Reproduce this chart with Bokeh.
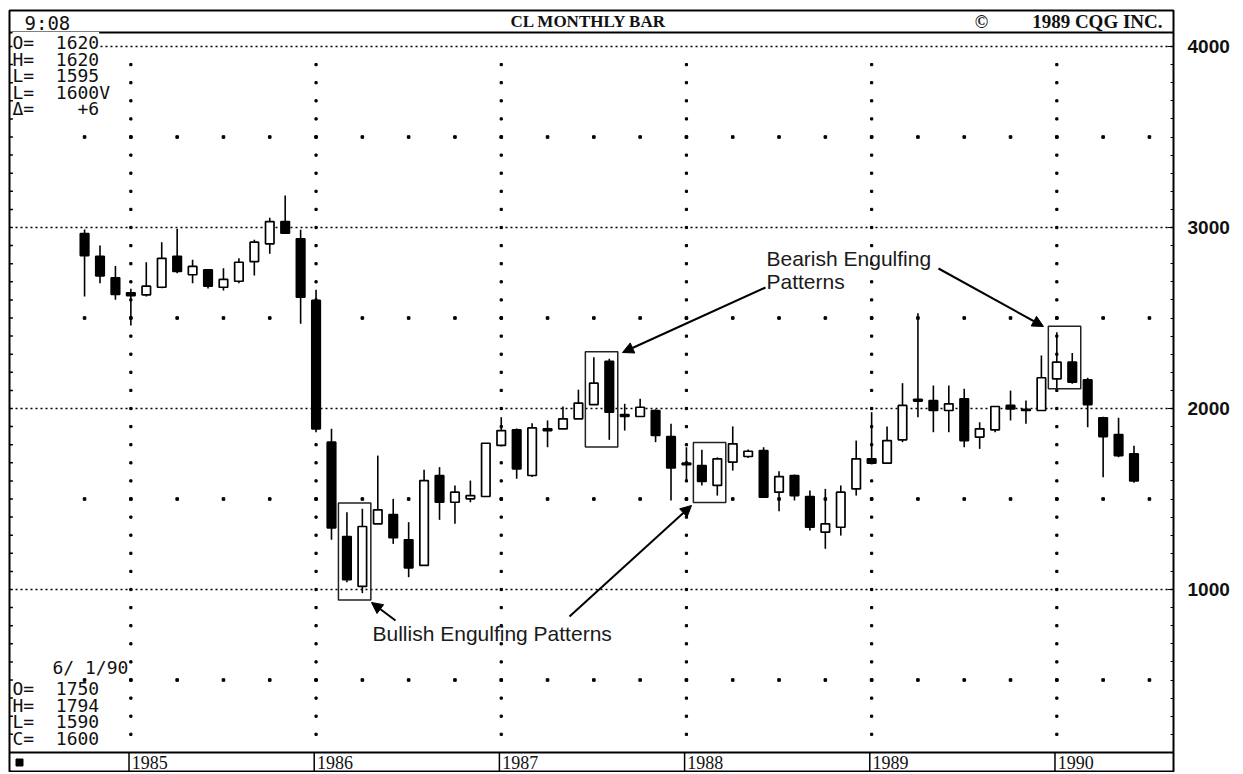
import numpy as np
import pandas as pd
from bokeh.plotting import figure
from bokeh.models import (Range1d, LinearAxis, FixedTicker, Label, Arrow,
                          NormalHead, Span, ColumnDataSource)
from bokeh.core.properties import value
from bokeh.embed import file_html
from bokeh.resources import INLINE

# ---------------- data ----------------
months = pd.date_range("1984-10-01", periods=69, freq="MS")
opens = [2967, 2841, 2722, 2639, 2628, 2670, 2841, 2739, 2766, 2670, 2703, 2812,
         2910, 3033, 2938, 2597, 1814, 1293, 1017, 1363, 1414, 1275, 1133, 1630,
         1482, 1501, 1514, 1796, 1882, 1630, 1878, 1888, 1943, 2022, 2261, 1967,
         1956, 1989, 1845, 1698, 1685, 1575, 1704, 1735, 1768, 1538, 1630, 1514,
         1317, 1344, 1556, 1722, 1698, 1827, 2041, 2044, 1989, 2054, 1842, 1882,
         2017, 1995, 1989, 2164, 2256, 2159, 1949, 1856, 1750]
highs = [2989, 2901, 2788, 2661, 2808, 2919, 2993, 2822, 2770, 2775, 2830, 2932,
         3054, 3177, 2987, 2656, 1888, 1427, 1446, 1740, 1501, 1372, 1661, 1676,
         1575, 1602, 1808, 1952, 1890, 1919, 1934, 2011, 2104, 2283, 2275, 2026,
         2054, 1995, 1916, 1786, 1772, 1730, 1901, 1773, 1786, 1654, 1635, 1547,
         1556, 1575, 1823, 1980, 1901, 2140, 2527, 2127, 2127, 2109, 1924, 2011,
         2099, 2044, 2293, 2422, 2307, 2170, 1955, 1949, 1794]
lows = [2619, 2692, 2601, 2459, 2619, 2665, 2748, 2692, 2663, 2652, 2692, 2735,
        2855, 2969, 2468, 1869, 1275, 1040, 980, 1363, 1252, 1068, 1133, 1385,
        1363, 1482, 1514, 1796, 1612, 1621, 1786, 1888, 1943, 2022, 1827, 1878,
        1956, 1814, 1492, 1602, 1575, 1519, 1657, 1727, 1510, 1433, 1492, 1326,
        1225, 1298, 1519, 1698, 1694, 1814, 1952, 1869, 1869, 1786, 1777, 1869,
        1934, 1916, 1989, 2099, 2137, 1897, 1620, 1731, 1590]
closes = [2845, 2733, 2630, 2624, 2676, 2830, 2757, 2785, 2676, 2713, 2808, 2919,
          3033, 2969, 2615, 1888, 1341, 1054, 1348, 1440, 1286, 1120, 1602, 1482,
          1538, 1519, 1808, 1878, 1667, 1893, 1888, 1943, 2030, 2140, 1980, 1956,
          2007, 1851, 1672, 1690, 1597, 1722, 1805, 1764, 1510, 1624, 1519, 1344,
          1363, 1538, 1722, 1698, 1823, 2017, 2050, 1989, 2026, 1823, 1888, 2011,
          1998, 1990, 2170, 2256, 2145, 2022, 1845, 1740, 1600]

price_ticks = [1000, 2000, 3000, 4000]
bull_patterns = [(17, 18), (40, 41)]
bear_patterns = [(33, 34), (63, 64)]
NB = "\u00a0"
last_trade = ["O=" + NB * 2 + "1620", "H=" + NB * 2 + "1620",
              "L=" + NB * 2 + "1595", "L=" + NB * 2 + "1600V",
              "\u0394=" + NB * 4 + "+6"]
header_left = "9:08"
header_title = "CL MONTHLY BAR"
header_copy = "\u00a9"
header_right = "1989 CQG INC."

# ---------------- layout ----------------
W_FRAME, H_FRAME = 1164, 762
X0, X1 = -4.864, 70.56
Y0, Y1 = -11.0, 4199.0


def px_x(px):
    return X0 + (px - 9) * (X1 - X0) / W_FRAME


def px_y(py):
    return Y1 - (py - 10) * (Y1 - Y0) / H_FRAME


p = figure(frame_width=W_FRAME, frame_height=H_FRAME,
           x_range=Range1d(X0, X1), y_range=Range1d(Y0, Y1),
           x_axis_type=None, y_axis_type=None,
           output_backend="svg", toolbar_location=None,
           min_border_left=9, min_border_top=10, min_border_bottom=0,
           min_border_right=64)
p.outline_line_color = "black"
p.outline_line_width = 2
p.background_fill_color = "white"
p.border_fill_color = "white"

# right price axis
ax = LinearAxis(ticker=FixedTicker(ticks=price_ticks,
                                   minor_ticks=list(range(100, 4100, 100))))
ax.axis_line_color = None
ax.major_tick_in = 6
ax.major_tick_out = 0
ax.minor_tick_in = 3
ax.minor_tick_out = 0
ax.major_tick_line_color = "black"
ax.minor_tick_line_color = "black"
ax.major_label_standoff = 14
ax.major_label_text_font = "Liberation Sans"
ax.major_label_text_font_style = "bold"
ax.major_label_text_font_size = "19px"
ax.major_label_text_color = "#111111"
p.add_layout(ax, "right")

x = np.arange(len(opens))
jan_idx = [i for i, m in enumerate(months) if m.month == 1]
year_labels = [str(months[i].year) for i in jan_idx]

BAND_TOP = px_y(752)
HEADER_BOT = px_y(32)

# ---------------- grid ----------------
n = len(price_ticks)
p.segment(x0=[px_x(15)] * n, y0=price_ticks, x1=[X1] * n, y1=price_ticks,
          line_color="black", line_width=1.7, line_dash="2 3")
vx, vy = np.meshgrid(jan_idx, np.arange(200, 4000, 100))
p.scatter(vx.ravel(), vy.ravel(), marker="square", size=2.2, color="black")
qx, qy = np.meshgrid(np.arange(0, len(opens) + 1, 3), [500, 1500, 2500, 3500])
p.scatter(qx.ravel(), qy.ravel(), marker="square", size=2.6, color="black")
lt = np.arange(200, 4100, 100)
p.segment(x0=[X0] * len(lt), y0=lt, x1=[X0 + 0.22] * len(lt), y1=lt,
          line_color="black", line_width=1.5)

# ---------------- candles ----------------
o = np.array(opens)
c = np.array(closes)
src = ColumnDataSource(dict(x=x, top=np.maximum(o, c), bottom=np.minimum(o, c),
                            high=highs, low=lows,
                            fill=np.where(c >= o, "white", "black")))
p.segment(x0="x", y0="high", x1="x", y1="low", source=src,
          line_color="black", line_width=1.6)
p.vbar(x="x", width=0.55, top="top", bottom="bottom", fill_color="fill",
       line_color="black", line_width=1.7, source=src)

# pattern boxes
box_pads = [(32, 38), (40, 38), (30, 40), (32, -10)]
boxes = bull_patterns + bear_patterns
bl, br, bt, bb = [], [], [], []
for (a, b), (pt, pb) in zip(boxes, box_pads):
    bl.append(a - 0.55)
    br.append(b + 0.55)
    bt.append(max(highs[a:b + 1]) + pt)
    bb.append(min(lows[a:b + 1]) - pb)
p.quad(left=bl, right=br, top=bt, bottom=bb, fill_alpha=0,
       line_color="#222222", line_width=1.5)

# ---------------- header & year band ----------------
p.add_layout(Span(location=HEADER_BOT, dimension="width",
                  line_color="black", line_width=2))
p.add_layout(Span(location=BAND_TOP, dimension="width",
                  line_color="black", line_width=2))
jx = np.array(jan_idx) - 0.12
p.segment(x0=jx, y0=[BAND_TOP] * len(jx), x1=jx, y1=[Y0] * len(jx),
          line_color="black", line_width=1.5)
p.text(x=list(jx + 0.18), y=[px_y(762)] * len(jx), text=year_labels,
       text_font=value("Liberation Serif"), text_font_size="18px",
       text_baseline="middle", text_align="left", text_color="#111111")
p.scatter([px_x(19)], [px_y(762)], marker="square", size=7, color="black")

p.add_layout(Label(x=px_x(24), y=px_y(22), text=header_left,
                   text_font="DejaVu Sans Mono", text_font_size="19px",
                   text_baseline="middle", text_color="#111111"))
p.add_layout(Label(x=px_x(588), y=px_y(21), text=header_title,
                   text_font="Liberation Serif", text_font_style="bold",
                   text_font_size="17px", text_align="center",
                   text_baseline="middle", text_color="#111111"))
p.add_layout(Label(x=px_x(981), y=px_y(21), text=header_copy,
                   text_font="Liberation Serif", text_font_style="bold",
                   text_font_size="18px", text_align="center",
                   text_baseline="middle", text_color="#111111"))
p.add_layout(Label(x=px_x(1162), y=px_y(21), text=header_right,
                   text_font="Liberation Serif", text_font_style="bold",
                   text_font_size="19px", text_align="right",
                   text_baseline="middle", text_color="#111111"))

# ---------------- info blocks ----------------
for k, t in enumerate(last_trade):
    p.add_layout(Label(x=px_x(12), y=px_y(42 + 16.5 * k), text=t,
                       text_font="DejaVu Sans Mono", text_font_size="18px",
                       text_baseline="middle", text_color="#111111",
                       background_fill_color="white" if k == 0 else None))

last_date = months[-1]
info_bottom = [f"{last_date.month}/{NB}{last_date.day}/{last_date.year % 100}",
               f"O={NB * 2}{opens[-1]}", f"H={NB * 2}{highs[-1]}",
               f"L={NB * 2}{lows[-1]}", f"C={NB * 2}{closes[-1]}"]
bottom_rows = [667, 688, 704.5, 721, 738]
for k, (t, py) in enumerate(zip(info_bottom, bottom_rows)):
    p.add_layout(Label(x=px_x(52 if k == 0 else 12), y=px_y(py), text=t,
                       text_font="DejaVu Sans Mono", text_font_size="18px",
                       text_baseline="middle", text_color="#111111"))

# ---------------- annotations ----------------
ann_font = "Liberation Sans"
p.add_layout(Label(x=px_x(766), y=px_y(258), text="Bearish Engulfing",
                   text_font=ann_font, text_font_size="21px",
                   text_baseline="middle", text_color="#1a1a1a"))
p.add_layout(Label(x=px_x(766), y=px_y(281), text="Patterns",
                   text_font=ann_font, text_font_size="21px",
                   text_baseline="middle", text_color="#1a1a1a"))
p.add_layout(Label(x=px_x(372), y=px_y(633), text="Bullish Engulfing Patterns",
                   text_font=ann_font, text_font_size="21px",
                   text_baseline="middle", text_color="#1a1a1a"))

arrows = [((765, 287), (622, 352)),
          ((938, 268), (1043, 326)),
          ((395, 620), (371, 602)),
          ((569, 616), (691, 505))]
for (sx, sy), (ex, ey) in arrows:
    p.add_layout(Arrow(end=NormalHead(size=11, fill_color="black",
                                      line_color="black"),
                       x_start=px_x(sx), y_start=px_y(sy),
                       x_end=px_x(ex), y_end=px_y(ey),
                       line_color="black", line_width=2))

open("out.html", "w").write(file_html(p, INLINE))
